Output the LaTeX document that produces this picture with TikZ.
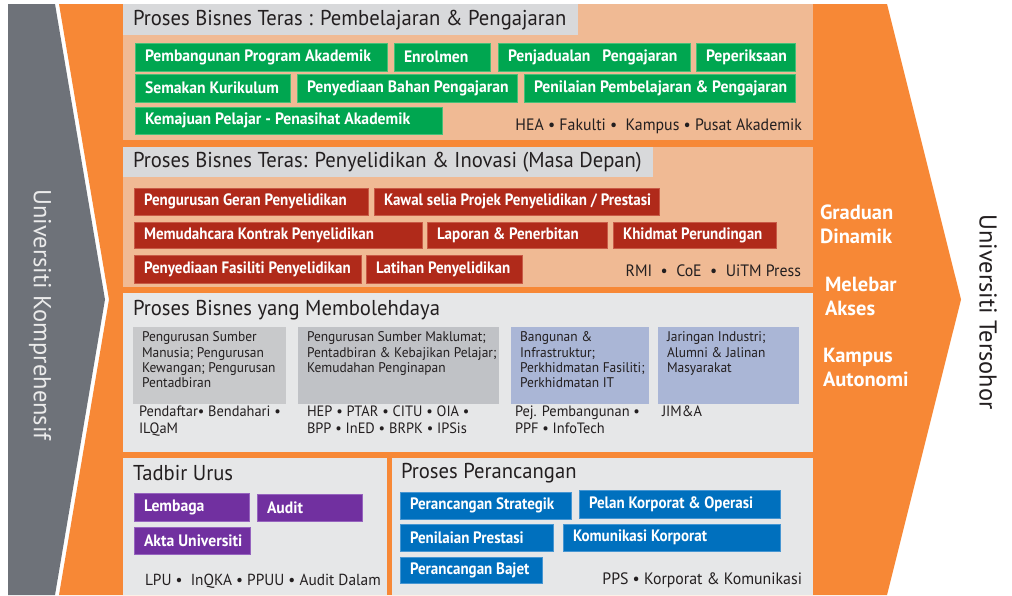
\documentclass[tikz,border=0pt]{standalone}
\usepackage{fontspec}
\setmainfont{PT Sans}
\newfontfamily\condfont{PT Sans}[FakeStretch=0.96]
\newfontfamily\labelfont{PT Sans}[FakeStretch=0.95]
\newfontfamily\narrowlabelfont{PT Sans}[FakeStretch=0.91]
\newfontfamily\widefont{PT Sans}

\definecolor{chev}{RGB}{247,136,54}
\definecolor{peach}{RGB}{240,186,148}
\definecolor{panelgray}{RGB}{230,231,232}
\definecolor{taggray}{RGB}{216,217,219}
\definecolor{leftgray}{RGB}{110,114,121}
\definecolor{gfill}{RGB}{0,166,80}
\definecolor{gline}{RGB}{70,192,120}
\definecolor{rfill}{RGB}{176,42,26}
\definecolor{rline}{RGB}{200,90,70}
\definecolor{pfill}{RGB}{113,48,160}
\definecolor{pline}{RGB}{150,100,190}
\definecolor{bfill}{RGB}{0,112,190}
\definecolor{bline}{RGB}{70,150,210}
\definecolor{greyA}{RGB}{200,201,203}
\definecolor{greyB}{RGB}{192,194,198}
\definecolor{lav}{RGB}{170,182,214}
\definecolor{ink}{RGB}{35,31,32}

\tikzset{
  every node/.style={inner sep=0pt, outer sep=0pt},
  titletext/.style={anchor=west, text=ink, font=\condfont\fontsize{21.5}{25}\selectfont},
  boxlabel/.style={anchor=west, text=white, font=\labelfont\bfseries\fontsize{16.5}{18}\selectfont},
  narrowlabel/.style={font=\narrowlabelfont\bfseries\fontsize{16.5}{18}\selectfont},
  unitline/.style={text=ink, font=\condfont\fontsize{16.5}{19}\selectfont},
  unitpair/.style={text=ink, anchor=north west, align=left, font=\condfont\fontsize{15}{17}\selectfont},
  greenbox/.style={fill=gfill, draw=gline, line width=0.8pt},
  redbox/.style={fill=rfill, draw=rline, line width=0.8pt},
  purplebox/.style={fill=pfill, draw=pline, line width=0.8pt},
  bluebox/.style={fill=bfill, draw=bline, line width=0.8pt},
  infobox/.style={fill=#1, draw=none},
  infotext/.style={anchor=north west, align=left, text=ink,
    font=\condfont\fontsize{14}{15.3}\selectfont},
  outcome/.style={anchor=west, align=left, text=white,
    font=\widefont\bfseries\fontsize{20.5}{24}\selectfont},
}

% coloured tag with a left-aligned white label; #1 box style, #2 extra label style
\newcommand\tagbox[8]{%
  \node[#1, minimum width=#6pt, minimum height=#7pt, anchor=north west] (#3) at (#4,#5) {};
  \node[boxlabel, #2] (#3-t) at ([xshift=10pt]#3.west) {#8};}

\begin{document}
\begin{tikzpicture}[x=1pt, y=-1pt]
\useasboundingbox (0,0) rectangle (1012,595);
\fill[white] (0,0) rectangle (1012,595);

% outer shapes
\fill[leftgray] (8,4) -- (55,4) -- (105,299.5) -- (55,595) -- (8,595) -- cycle;
\fill[chev] (59,4) -- (887,4) -- (961,299.5) -- (887,595) -- (59,595) -- (109,299.5) -- cycle;

\node[rotate=-90, text={rgb,255:red,235;green,235;blue,235}, font=\fontsize{24.5}{28}\selectfont] (komp) at (40,315) {Universiti Komprehensif};
\node[rotate=-90, text=ink, font=\fontsize{24.4}{28}\selectfont] (tersohor) at (988,312) {Universiti Tersohor};

\node[outcome] (graduan) at (820,224) {Graduan\\Dinamik};
\node[outcome] (melebar) at (825,296) {Melebar\\Akses};
\node[outcome] (kampus) at (823,367) {Kampus\\Autonomi};

% --- panel 1: teaching and learning
\fill[peach] (123,4) rectangle (813,140);
\fill[taggray] (123,4) rectangle (578,35);
\node[titletext] (t1) at (133,20) {Proses Bisnes Teras : Pembelajaran \& Pengajaran};
\tagbox{greenbox}{}{g1}{135}{43}{252}{28}{Pembangunan Program Akademik}
\tagbox{greenbox}{}{g2}{394}{43}{96}{28}{Enrolmen}
\tagbox{greenbox}{}{g3}{498}{43}{192}{28}{Penjadualan\hspace{12pt}Pengajaran}
\tagbox{greenbox}{}{g4}{696}{43}{99}{28}{Peperiksaan}
\tagbox{greenbox}{}{g5}{135}{74}{155}{28}{Semakan Kurikulum}
\tagbox{greenbox}{}{g6}{297}{74}{220}{28}{Penyediaan Bahan Pengajaran}
\tagbox{greenbox}{}{g7}{524}{74}{271}{28}{Penilaian Pembelajaran \& Pengajaran}
\tagbox{greenbox}{}{g8}{135}{107}{307}{27}{Kemajuan Pelajar - Penasihat Akademik}
\node[unitline, anchor=east] (u1) at (802,126) {HEA • Fakulti •\ \ Kampus • Pusat Akademik};

% --- panel 2: research and innovation
\fill[peach] (123,147) rectangle (813,287);
\fill[taggray] (123,147) rectangle (653,177);
\node[titletext] (t2) at (133,162) {Proses Bisnes Teras: Penyelidikan \& Inovasi (Masa Depan)};
\tagbox{redbox}{narrowlabel}{r1}{134}{188}{234}{27}{Pengurusan Geran Penyelidikan}
\tagbox{redbox}{narrowlabel}{r2}{374}{188}{285}{27}{Kawal selia Projek Penyelidikan / Prestasi}
\tagbox{redbox}{narrowlabel}{r3}{134}{222}{288}{26}{Memudahcara Kontrak Penyelidikan}
\tagbox{redbox}{narrowlabel}{r4}{427}{222}{180}{26}{Laporan \& Penerbitan}
\tagbox{redbox}{narrowlabel}{r5}{613}{222}{163}{26}{Khidmat Perundingan}
\tagbox{redbox}{narrowlabel}{r6}{134}{255}{227}{28}{Penyediaan Fasiliti Penyelidikan}
\tagbox{redbox}{narrowlabel}{r7}{366}{255}{156}{28}{Latihan Penyelidikan}
\node[unitline, anchor=east] (u2) at (801,271) {RMI\ \ •\ \ CoE\ \ •\ \ UiTM Press};

% --- panel 3: enabling processes
\fill[panelgray] (123,293) rectangle (813,452);
\node[titletext] (t3) at (133,310) {Proses Bisnes yang Membolehdaya};
\node[infobox=greyA, minimum width=153pt, minimum height=77pt, anchor=north west] (eA) at (133,327) {};
\node[infobox=greyB, minimum width=201pt, minimum height=77pt, anchor=north west] (eB) at (298,327) {};
\node[infobox=lav, minimum width=138pt, minimum height=77pt, anchor=north west] (eC) at (511,327) {};
\node[infobox=lav, minimum width=141pt, minimum height=77pt, anchor=north west] (eD) at (658,327) {};
\node[infotext] (eA-t) at ([xshift=9pt, yshift=-5pt]eA.north west) {Pengurusan Sumber\\Manusia; Pengurusan\\Kewangan; Pengurusan\\Pentadbiran};
\node[infotext] (eB-t) at ([xshift=9pt, yshift=-5pt]eB.north west) {Pengurusan Sumber Maklumat;\\Pentadbiran \& Kebajikan Pelajar;\\Kemudahan Penginapan};
\node[infotext] (eC-t) at ([xshift=9pt, yshift=-5pt]eC.north west) {Bangunan \&\\Infrastruktur;\\Perkhidmatan Fasiliti;\\Perkhidmatan IT};
\node[infotext] (eD-t) at ([xshift=9pt, yshift=-5pt]eD.north west) {Jaringan Industri;\\Alumni \& Jalinan\\Masyarakat};
\node[unitpair] (uA) at (139,406) {Pendaftar• Bendahari •\\ILQaM};
\node[unitpair] (uB) at (307,406) {HEP • PTAR • CITU • OIA •\\BPP • InED • BRPK • IPSis};
\node[unitpair] (uC) at (515,406) {Pej. Pembangunan •\\PPF\ • InfoTech};
\node[unitpair] (uD) at (662,406) {JIM\&A};

% --- panel 4: governance
\fill[panelgray] (123,458) rectangle (387,595);
\node[titletext] (t4) at (133,473) {Tadbir Urus};
\tagbox{purplebox}{}{p1}{134}{493}{115}{28}{Lembaga}
\tagbox{purplebox}{}{p2}{257}{494}{105}{27}{Audit}
\tagbox{purplebox}{}{p3}{134}{527}{116}{27}{Akta Universiti}
\node[unitline, anchor=west, font=\condfont\fontsize{16}{19}\selectfont] (u4) at (145,581) {LPU • \ InQKA • PPUU • Audit Dalam};

% --- panel 5: planning
\fill[panelgray] (392,458) rectangle (813,595);
\node[titletext] (t5) at (401,473) {Proses Perancangan};
\tagbox{bluebox}{narrowlabel}{b1}{400}{492}{171}{27}{Perancangan Strategik}
\tagbox{bluebox}{narrowlabel}{b2}{579}{490}{201}{28}{Pelan Korporat \& Operasi}
\tagbox{bluebox}{narrowlabel}{b3}{400}{524}{153}{27}{Penilaian Prestasi}
\tagbox{bluebox}{narrowlabel}{b4}{563}{524}{217}{27}{Komunikasi Korporat}
\tagbox{bluebox}{narrowlabel}{b5}{400}{557}{142}{26}{Perancangan Bajet}
\node[unitline, anchor=east] (u5) at (802,580) {PPS • Korporat \& Komunikasi};
\end{tikzpicture}
\end{document}
